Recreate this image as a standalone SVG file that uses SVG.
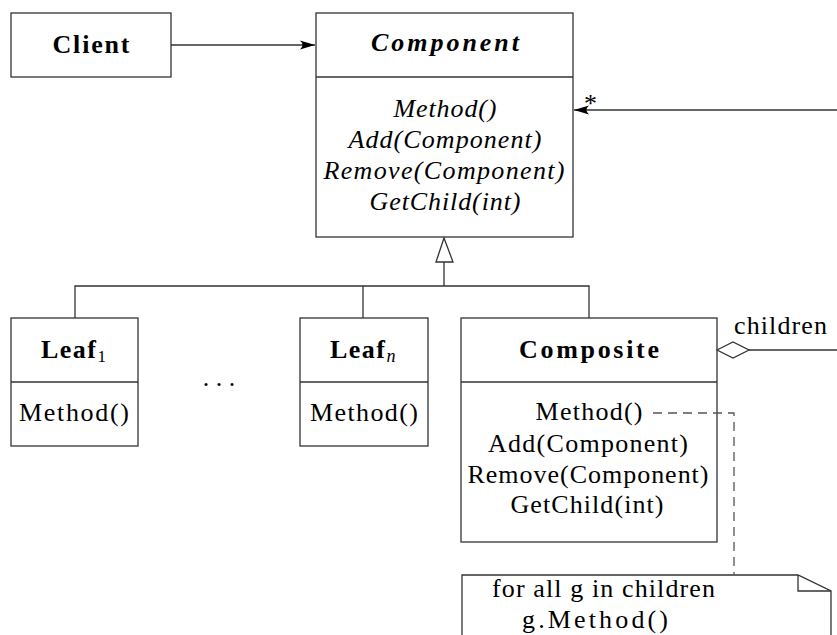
<svg xmlns="http://www.w3.org/2000/svg" width="837" height="635" viewBox="0 0 837 635" font-family="'Liberation Serif', 'DejaVu Serif', serif">
<defs>
<style>
.box{fill:#fff;stroke:#333;stroke-width:1.3}
.ln{fill:none;stroke:#333;stroke-width:1.3}
.dash{fill:none;stroke:#555;stroke-width:1.3;stroke-dasharray:9 6}
text{font-size:26px;fill:#000}
.b{font-weight:bold}
.i{font-style:italic}
.c{text-anchor:middle}
</style>
<marker id="arr" viewBox="-16 -6 17 12" refX="0" refY="0" markerWidth="17" markerHeight="12" markerUnits="userSpaceOnUse" orient="auto">
<path d="M0,0 L-15,-4.5 Q-10,0 -15,4.5 Z" fill="#000"/>
</marker>
</defs>
<rect width="837" height="635" fill="#fff"/>

<g id="client">
<rect class="box" x="11" y="13" width="160" height="64"/>
<text class="b c" x="91" y="53" textLength="77">Client</text>
</g>

<g id="component">
<rect class="box" x="316" y="13" width="257" height="224"/>
<line class="ln" x1="316" y1="77" x2="573" y2="77"/>
<text class="b i c" x="445" y="51" textLength="148">Component</text>
<text class="i c" x="445" y="117" textLength="103">Method()</text>
<text class="i c" x="445" y="148" textLength="193">Add(Component)</text>
<text class="i c" x="444" y="179" textLength="241">Remove(Component)</text>
<text class="i c" x="445" y="210" textLength="151">GetChild(int)</text>
</g>

<g id="leaf1">
<rect class="box" x="11" y="318" width="127" height="128"/>
<line class="ln" x1="11" y1="382" x2="138" y2="382"/>
<text x="41" y="358"><tspan class="b" textLength="55">Leaf</tspan><tspan style="font-size:17px" dy="4">1</tspan></text>
<text class="c" x="74" y="421" textLength="110">Method()</text>
</g>

<g id="dots">
<text class="c" x="219" y="386">. . .</text>
</g>

<g id="leafn">
<rect class="box" x="300" y="318" width="128" height="128"/>
<line class="ln" x1="300" y1="382" x2="428" y2="382"/>
<text x="330" y="358"><tspan class="b" textLength="55">Leaf</tspan><tspan class="i" style="font-size:18px" dy="4">n</tspan></text>
<text class="c" x="364" y="421" textLength="108">Method()</text>
</g>

<g id="composite">
<rect class="box" x="461" y="318" width="256" height="224"/>
<line class="ln" x1="461" y1="382" x2="717" y2="382"/>
<text class="b c" x="589" y="358" textLength="140">Composite</text>
<text class="c" x="589" y="420" textLength="107">Method()</text>
<text class="c" x="588" y="452" textLength="200">Add(Component)</text>
<text class="c" x="588" y="483" textLength="241">Remove(Component)</text>
<text class="c" x="587" y="513" textLength="153">GetChild(int)</text>
</g>

<g id="note">
<path class="box" d="M462,640 L462,575 L798,575 L831,591 L831,640"/>
<polyline class="ln" points="798,575 798,591 831,591"/>
<text x="492" y="597" textLength="223">for all g in children</text>
<text x="522" y="628" textLength="146">g.Method()</text>
</g>

<g id="connectors">
<line class="ln" x1="171" y1="45" x2="315" y2="45" marker-end="url(#arr)"/>
<line class="ln" x1="837" y1="110" x2="574" y2="110" marker-end="url(#arr)"/>
<text x="584" y="112">*</text>
<polygon class="box" points="444,238 436,262 453,262"/>
<line class="ln" x1="444" y1="262" x2="444" y2="286"/>
<polyline class="ln" points="75,318 75,286 589,286 589,318"/>
<line class="ln" x1="363" y1="286" x2="363" y2="318"/>
<polygon class="box" points="717,350 733,342 749,350 733,358"/>
<line class="ln" x1="749" y1="350" x2="837" y2="350"/>
<text x="734" y="334" textLength="93">children</text>
<polyline class="dash" points="653,413 734,413 734,575"/>
</g>
</svg>
